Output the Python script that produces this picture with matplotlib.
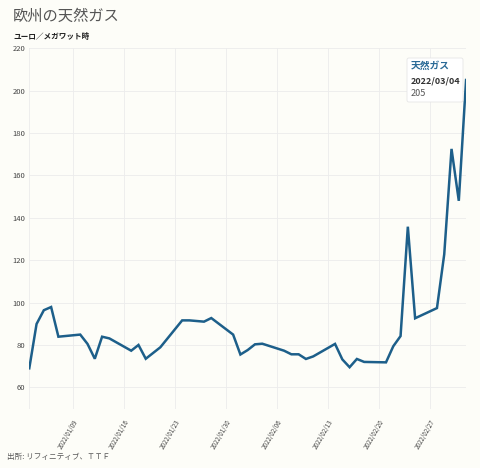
import pandas as pd
import matplotlib.pyplot as plt
import matplotlib.dates as mdates
from matplotlib.patches import FancyBboxPatch

plt.rcParams['font.family'] = ['Noto Sans CJK JP', 'DejaVu Sans']

# Daily TTF prices (weekdays only), EUR/MWh
dates = pd.to_datetime([
    "2022-01-03", "2022-01-04", "2022-01-05", "2022-01-06", "2022-01-07",
    "2022-01-10", "2022-01-11", "2022-01-12", "2022-01-13", "2022-01-14",
    "2022-01-17", "2022-01-18", "2022-01-19", "2022-01-20", "2022-01-21",
    "2022-01-24", "2022-01-25", "2022-01-26", "2022-01-27", "2022-01-28",
    "2022-01-31", "2022-02-01", "2022-02-02", "2022-02-03", "2022-02-04",
    "2022-02-07", "2022-02-08", "2022-02-09", "2022-02-10", "2022-02-11",
    "2022-02-14", "2022-02-15", "2022-02-16", "2022-02-17", "2022-02-18",
    "2022-02-21", "2022-02-22", "2022-02-23", "2022-02-24", "2022-02-25",
    "2022-02-28", "2022-03-01", "2022-03-02", "2022-03-03", "2022-03-04",
])
prices = [
    69.0, 89.9, 96.4, 97.9, 83.9,
    84.9, 80.5, 73.5, 83.9, 83.1,
    77.3, 80.0, 73.5, 76.2, 78.9,
    91.6, 91.6, 91.3, 91.0, 92.7,
    84.9, 75.5, 77.6, 80.3, 80.6,
    77.3, 75.6, 75.6, 73.4, 74.6,
    80.5, 73.2, 69.5, 73.4, 72.0,
    71.8, 79.4, 84.2, 135.8, 92.6,
    97.4, 122.8, 172.5, 148.0, 205.0,
]
yticks = [60, 80, 100, 120, 140, 160, 180, 200, 220]
xticks = pd.to_datetime(["2022-01-09", "2022-01-16", "2022-01-23", "2022-01-30",
                         "2022-02-06", "2022-02-13", "2022-02-20", "2022-02-27"])

bg = "#fdfdf8"
line_color = "#1d5f8a"

fig = plt.figure(figsize=(4.8, 4.68), dpi=100, facecolor=bg)
ax = fig.add_axes([0.061, 0.127, 0.910, 0.770], facecolor=bg)

ax.plot(dates, prices, color=line_color, linewidth=1.8, solid_joinstyle="miter")

ax.set_xlim(dates[0], dates[-1])
ax.set_ylim(50, 220)
ax.set_yticks(yticks)
ax.set_xticks(xticks)
ax.xaxis.set_major_formatter(mdates.DateFormatter("%Y/%m/%d"))
ax.tick_params(axis="y", length=0, labelsize=5.5, labelcolor="#444444", pad=3)
ax.tick_params(axis="x", length=0, labelsize=4.5, labelcolor="#444444", pad=7)
for lab in ax.get_xticklabels():
    lab.set_rotation(60)
    lab.set_ha("right")
    lab.set_rotation_mode("anchor")

ax.grid(True, color="#ececec", linewidth=0.6)
for s in ax.spines.values():
    s.set_visible(False)
ax.axvline(dates[0], color="#ececec", linewidth=0.6, zorder=0)
ax.axhline(50, color="#ececec", linewidth=0.6, zorder=0)

fig.text(13 / 480, 1 - 16 / 468, "欧州の天然ガス", fontsize=11, color="#555555",
         va="center", ha="left")
fig.text(13 / 480, 1 - 37 / 468, "ユーロ／メガワット時", fontsize=5.5,
         fontweight="bold", color="#222222", va="center", ha="left")
fig.text(7 / 480, 1 - 457 / 468, "出所: リフィニティブ、ＴＴＦ", fontsize=5.5,
         color="#555555", va="center", ha="left")

# tooltip
box = FancyBboxPatch((407 / 480, 1 - 102 / 468), 56 / 480, 44 / 468,
                     boxstyle="round,pad=0,rounding_size=0.004",
                     transform=fig.transFigure, facecolor="white",
                     edgecolor="#e6e6e6", linewidth=0.6, zorder=5)
fig.patches.append(box)
fig.text(411 / 480, 1 - 66 / 468, "天然ガス", fontsize=7, fontweight="bold",
         color="#2a6a96", va="center", ha="left", zorder=6)
fig.text(411 / 480, 1 - 81 / 468, "2022/03/04", fontsize=6.5, fontweight="bold",
         color="#333333", va="center", ha="left", zorder=6)
fig.text(411 / 480, 1 - 94 / 468, "205", fontsize=6.5, color="#555555",
         va="center", ha="left", zorder=6)

fig.savefig("out.png", dpi=100, facecolor=bg)
